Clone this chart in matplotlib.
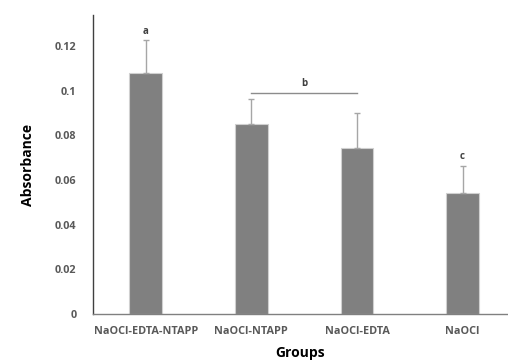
import matplotlib
matplotlib.use('Agg')
import matplotlib.pyplot as plt

groups = ['NaOCl-EDTA-NTAPP', 'NaOCl-NTAPP', 'NaOCl-EDTA', 'NaOCl']
means = [0.108, 0.0851, 0.0744, 0.0544]
errors = [0.0146, 0.0113, 0.0156, 0.012]
letters = ['a', None, None, 'c']

plt.rcParams['font.family'] = ['Open Sans', 'DejaVu Sans']

fig = plt.figure(figsize=(5.08, 3.63), dpi=100)
ax = fig.add_axes([0.183, 0.135, 0.817, 0.824])

x = list(range(len(groups)))
ax.bar(x, means, width=0.31, color='#808080', edgecolor='#d0d0d0', linewidth=0.8, zorder=2)
ax.errorbar(x, means, yerr=[[0] * len(errors), errors], fmt='none',
            ecolor='#a6a6a6', elinewidth=1, capsize=2, capthick=1, zorder=3)

for xi, m, e, lab in zip(x, means, errors, letters):
    if lab:
        ax.text(xi, m + e + 0.0015, lab, ha='center', va='bottom',
                fontsize=7, fontweight='bold', color='#404040')

# shared letter for the two middle groups
ax.plot([1, 2], [0.0991, 0.0991], color='#8c8c8c', lw=1)
ax.text(1.5, 0.1008, 'b', ha='center', va='bottom', fontsize=7,
        fontweight='bold', color='#404040')

ax.set_xlim(-0.5, 3.43)
ax.set_ylim(0, 0.134)
ax.set_yticks([0, 0.02, 0.04, 0.06, 0.08, 0.1, 0.12])
ax.set_yticklabels(['0', '0.02', '0.04', '0.06', '0.08', '0.1', '0.12'])
ax.set_xticks(x)
ax.set_xticklabels(groups)
ax.tick_params(axis='both', length=0, labelsize=7.8, colors='#595959')
ax.tick_params(axis='x', pad=9)
ax.tick_params(axis='y', pad=12)
for t in ax.get_xticklabels() + ax.get_yticklabels():
    t.set_fontweight('bold')

for s in ['top', 'right']:
    ax.spines[s].set_visible(False)
ax.spines['left'].set_color('#404040')
ax.spines['bottom'].set_color('#808080')
ax.spines['left'].set_linewidth(1)
ax.spines['bottom'].set_linewidth(1)

ax.set_xlabel('Groups', fontsize=10, fontweight='bold', labelpad=6)
ax.set_ylabel('Absorbance', fontsize=10, fontweight='bold', labelpad=14)

fig.savefig('out.png', dpi=100)
